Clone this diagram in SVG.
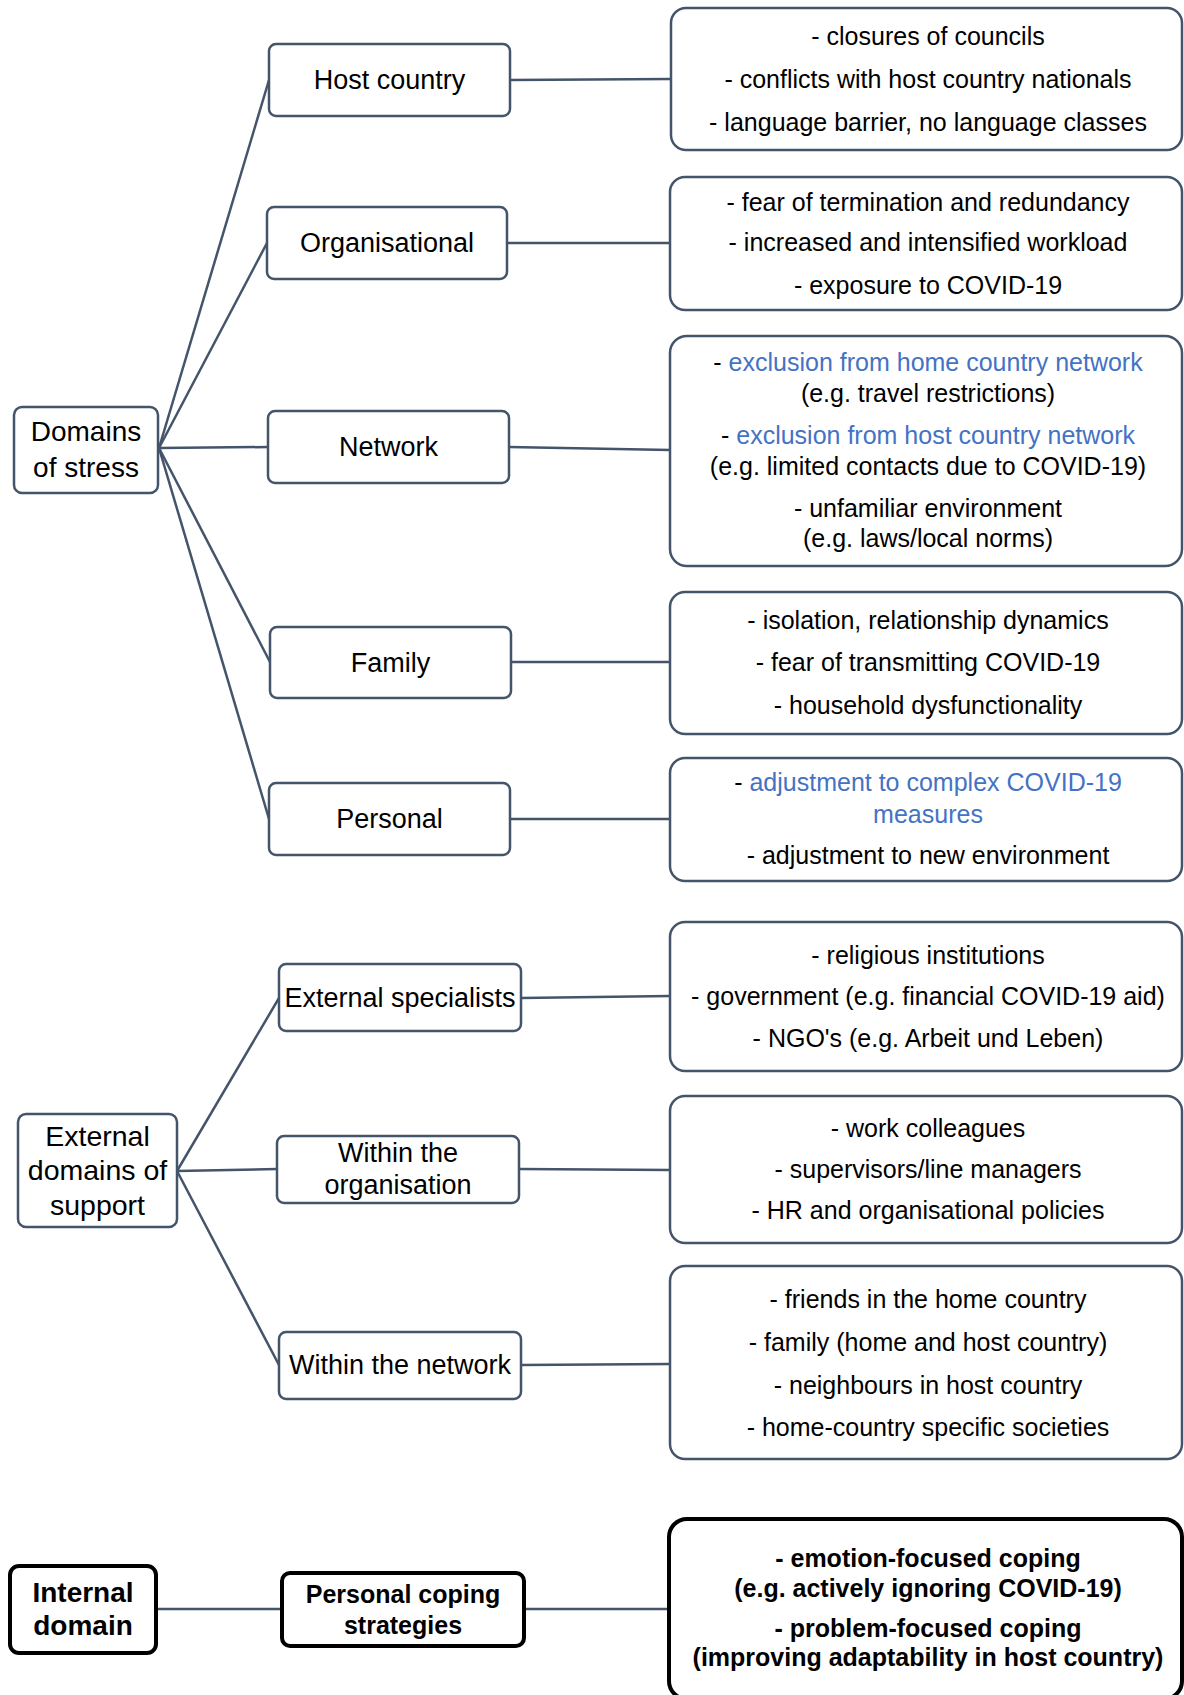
<svg xmlns="http://www.w3.org/2000/svg" width="1184" height="1695" viewBox="0 0 1184 1695">
<style>
  .bg { fill: #ffffff; }
  .node { fill: #ffffff; stroke: #44546A; stroke-width: 2.5; }
  .detail { fill: #ffffff; stroke: #44546A; stroke-width: 2.5; }
  .strong { fill: #ffffff; stroke: #000000; stroke-width: 4; }
  .conn { stroke: #44546A; stroke-width: 2.5; fill: none; }
  .lbl { font-family: "Liberation Sans", Arial, sans-serif; font-size: 27px; fill: #000000; text-anchor: middle; dominant-baseline: central; }
  .txt { font-family: "Liberation Sans", Arial, sans-serif; font-size: 25px; fill: #000000; text-anchor: middle; dominant-baseline: central; }
  .bold { font-weight: bold; }
  .blue { fill: #4472C4; }
</style>
<rect class="bg" x="0" y="0" width="1184" height="1695"/>

<g id="connectors">
  <line class="conn" x1="159" y1="448" x2="269" y2="80"/>
  <line class="conn" x1="159" y1="448" x2="267" y2="243"/>
  <line class="conn" x1="159" y1="448" x2="268" y2="447"/>
  <line class="conn" x1="159" y1="448" x2="270" y2="662"/>
  <line class="conn" x1="159" y1="448" x2="269" y2="819"/>
  <line class="conn" x1="510" y1="80" x2="671" y2="79"/>
  <line class="conn" x1="507" y1="243" x2="670" y2="243"/>
  <line class="conn" x1="509" y1="447" x2="670" y2="450"/>
  <line class="conn" x1="511" y1="662" x2="670" y2="662"/>
  <line class="conn" x1="510" y1="819" x2="670" y2="819"/>
  <line class="conn" x1="177" y1="1171" x2="279" y2="998"/>
  <line class="conn" x1="177" y1="1171" x2="277" y2="1169"/>
  <line class="conn" x1="177" y1="1171" x2="279" y2="1365"/>
  <line class="conn" x1="521" y1="998" x2="670" y2="996"/>
  <line class="conn" x1="519" y1="1169" x2="670" y2="1170"/>
  <line class="conn" x1="521" y1="1365" x2="670" y2="1364"/>
  <line class="conn" x1="156" y1="1609" x2="282" y2="1609"/>
  <line class="conn" x1="524" y1="1609" x2="669" y2="1609"/>
</g>

<g id="domains-of-stress">
  <rect class="node" x="14" y="407" width="144" height="86" rx="8"/>
  <text class="lbl" x="86" y="431" style="font-size:28px">Domains</text>
  <text class="lbl" x="86" y="467" style="font-size:28px">of stress</text>
</g>
<g id="host-country">
  <rect class="node" x="269" y="44" width="241" height="72" rx="7"/>
  <text class="lbl" x="389.5" y="80">Host country</text>
</g>
<g id="organisational">
  <rect class="node" x="267" y="207" width="240" height="72" rx="7"/>
  <text class="lbl" x="387" y="243">Organisational</text>
</g>
<g id="network">
  <rect class="node" x="268" y="411" width="241" height="72" rx="7"/>
  <text class="lbl" x="388.5" y="447">Network</text>
</g>
<g id="family">
  <rect class="node" x="270" y="627" width="241" height="71" rx="7"/>
  <text class="lbl" x="390.5" y="662.5">Family</text>
</g>
<g id="personal">
  <rect class="node" x="269" y="783" width="241" height="72" rx="7"/>
  <text class="lbl" x="389.5" y="819">Personal</text>
</g>

<g id="host-country-details">
  <rect class="detail" x="671" y="8" width="511" height="142" rx="15"/>
  <text class="txt" x="928" y="36">- closures of councils</text>
  <text class="txt" x="928" y="79">- conflicts with host country nationals</text>
  <text class="txt" x="928" y="122">- language barrier, no language classes</text>
</g>
<g id="organisational-details">
  <rect class="detail" x="670" y="177" width="512" height="133" rx="15"/>
  <text class="txt" x="928" y="202">- fear of termination and redundancy</text>
  <text class="txt" x="928" y="242">- increased and intensified workload</text>
  <text class="txt" x="928" y="285">- exposure to COVID-19</text>
</g>
<g id="network-details">
  <rect class="detail" x="670" y="336" width="512" height="230" rx="17"/>
  <text class="txt" x="928" y="362">- <tspan class="blue">exclusion from home country network</tspan></text>
  <text class="txt" x="928" y="393">(e.g. travel restrictions)</text>
  <text class="txt" x="928" y="435">- <tspan class="blue">exclusion from host country network</tspan></text>
  <text class="txt" x="928" y="466">(e.g. limited contacts due to COVID-19)</text>
  <text class="txt" x="928" y="508">- unfamiliar environment</text>
  <text class="txt" x="928" y="538">(e.g. laws/local norms)</text>
</g>
<g id="family-details">
  <rect class="detail" x="670" y="592" width="512" height="142" rx="15"/>
  <text class="txt" x="928" y="620">- isolation, relationship dynamics</text>
  <text class="txt" x="928" y="662">- fear of transmitting COVID-19</text>
  <text class="txt" x="928" y="705">- household dysfunctionality</text>
</g>
<g id="personal-details">
  <rect class="detail" x="670" y="758" width="512" height="123" rx="15"/>
  <text class="txt" x="928" y="782">- <tspan class="blue">adjustment to complex COVID-19</tspan></text>
  <text class="txt blue" x="928" y="814">measures</text>
  <text class="txt" x="928" y="855">- adjustment to new environment</text>
</g>

<g id="external-domains-of-support">
  <rect class="node" x="18" y="1114" width="159" height="113" rx="8"/>
  <text class="lbl" x="97.5" y="1136" style="font-size:28.5px">External</text>
  <text class="lbl" x="97.5" y="1170" style="font-size:28.5px">domains of</text>
  <text class="lbl" x="97.5" y="1205" style="font-size:28.5px">support</text>
</g>
<g id="external-specialists">
  <rect class="node" x="279" y="964" width="242" height="67" rx="7"/>
  <text class="lbl" x="400" y="998">External specialists</text>
</g>
<g id="within-the-organisation">
  <rect class="node" x="277" y="1136" width="242" height="67" rx="7"/>
  <text class="lbl" x="398" y="1153">Within the</text>
  <text class="lbl" x="398" y="1185">organisation</text>
</g>
<g id="within-the-network">
  <rect class="node" x="279" y="1332" width="242" height="67" rx="7"/>
  <text class="lbl" x="400" y="1365">Within the network</text>
</g>

<g id="external-specialists-details">
  <rect class="detail" x="670" y="922" width="512" height="149" rx="15"/>
  <text class="txt" x="928" y="955">- religious institutions</text>
  <text class="txt" x="928" y="996">- government (e.g. financial COVID-19 aid)</text>
  <text class="txt" x="928" y="1038">- NGO's (e.g. Arbeit und Leben)</text>
</g>
<g id="within-the-organisation-details">
  <rect class="detail" x="670" y="1096" width="512" height="147" rx="15"/>
  <text class="txt" x="928" y="1128">- work colleagues</text>
  <text class="txt" x="928" y="1169">- supervisors/line managers</text>
  <text class="txt" x="928" y="1210">- HR and organisational policies</text>
</g>
<g id="within-the-network-details">
  <rect class="detail" x="670" y="1266" width="512" height="193" rx="15"/>
  <text class="txt" x="928" y="1299">- friends in the home country</text>
  <text class="txt" x="928" y="1342">- family (home and host country)</text>
  <text class="txt" x="928" y="1385">- neighbours in host country</text>
  <text class="txt" x="928" y="1427">- home-country specific societies</text>
</g>

<g id="internal-domain">
  <rect class="strong" x="10" y="1566" width="146" height="87" rx="9"/>
  <text class="lbl bold" x="83" y="1592" style="font-size:28px">Internal</text>
  <text class="lbl bold" x="83" y="1625" style="font-size:28px">domain</text>
</g>
<g id="personal-coping-strategies">
  <rect class="strong" x="282" y="1573" width="242" height="73" rx="8"/>
  <text class="lbl bold" x="403" y="1594" style="font-size:25px">Personal coping</text>
  <text class="lbl bold" x="403" y="1625" style="font-size:25px">strategies</text>
</g>
<g id="personal-coping-details">
  <rect class="strong" x="669" y="1519" width="513" height="180" rx="18"/>
  <text class="txt bold" x="928" y="1558">- emotion-focused coping</text>
  <text class="txt bold" x="928" y="1588">(e.g. actively ignoring COVID-19)</text>
  <text class="txt bold" x="928" y="1628">- problem-focused coping</text>
  <text class="txt bold" x="928" y="1657">(improving adaptability in host country)</text>
</g>
</svg>
